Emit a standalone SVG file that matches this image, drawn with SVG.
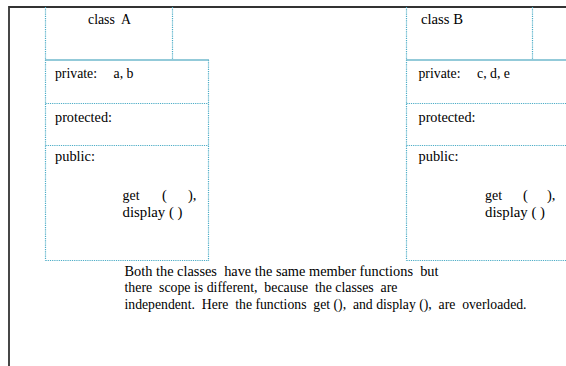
<svg xmlns="http://www.w3.org/2000/svg" width="566" height="366" viewBox="0 0 566 366">
<style>
.frame{stroke:#333;stroke-width:1.8;fill:none}
.dot{stroke:#4bacc6;stroke-width:1.2;stroke-dasharray:1.2 1;fill:none}
.solid{stroke:#6fb8cc;stroke-width:1.4;fill:none}
text{font-family:"Liberation Serif","Times New Roman",serif;font-size:14.5px;fill:#000;white-space:pre}
</style>
<rect width="566" height="366" fill="#fff"/>
<g id="frame">
<path class="frame" d="M9,366 V7 H566"/>
</g>
<g id="classA">
<path class="dot" d="M45.5,7 V260.5 M172.5,7 V59 M208.5,60 V261 M45.5,103.5 H208.5 M45.5,145.5 H208.5 M45.5,260.5 H208.5"/>
<path class="solid" d="M45,60 H209"/>
<text x="88" y="24" textLength="43" lengthAdjust="spacingAndGlyphs">class  A</text>
<text x="55" y="78" textLength="42" lengthAdjust="spacingAndGlyphs">private:</text>
<text x="113.5" y="78" textLength="20" lengthAdjust="spacingAndGlyphs">a, b</text>
<text x="55" y="121.5" textLength="57" lengthAdjust="spacingAndGlyphs">protected:</text>
<text x="55" y="160.5" textLength="40" lengthAdjust="spacingAndGlyphs">public:</text>
<text x="122.5" y="199.5" textLength="17" lengthAdjust="spacingAndGlyphs">get</text>
<text x="162" y="199.5">(</text>
<text x="188" y="199.5">),</text>
<text x="122.5" y="216.5" textLength="60" lengthAdjust="spacingAndGlyphs">display ( )</text>
</g>
<g id="classB">
<path class="dot" d="M406.5,7 V260.5 M532.5,7 V59 M406.5,103.5 H566 M406.5,145.5 H566 M406.5,260.5 H566"/>
<path class="solid" d="M406,60 H566"/>
<text x="421" y="24" textLength="42" lengthAdjust="spacingAndGlyphs">class B</text>
<text x="418.5" y="78" textLength="42" lengthAdjust="spacingAndGlyphs">private:</text>
<text x="477" y="78" textLength="33" lengthAdjust="spacingAndGlyphs">c, d, e</text>
<text x="418.5" y="121.5" textLength="57" lengthAdjust="spacingAndGlyphs">protected:</text>
<text x="418.5" y="160.5" textLength="40" lengthAdjust="spacingAndGlyphs">public:</text>
<text x="485" y="199.5" textLength="17" lengthAdjust="spacingAndGlyphs">get</text>
<text x="523" y="199.5">(</text>
<text x="547" y="199.5">),</text>
<text x="485" y="216.5" textLength="60" lengthAdjust="spacingAndGlyphs">display ( )</text>
</g>
<g id="note">
<text x="124.5" y="276" textLength="314" lengthAdjust="spacingAndGlyphs">Both the classes  have the same member functions  but</text>
<text x="124.5" y="292" textLength="273" lengthAdjust="spacingAndGlyphs">there  scope is different,  because  the classes  are</text>
<text x="124.5" y="308.5" textLength="402" lengthAdjust="spacingAndGlyphs">independent.  Here  the functions  get (),  and display (),  are  overloaded.</text>
</g>
<g id="connectors"/>
</svg>
